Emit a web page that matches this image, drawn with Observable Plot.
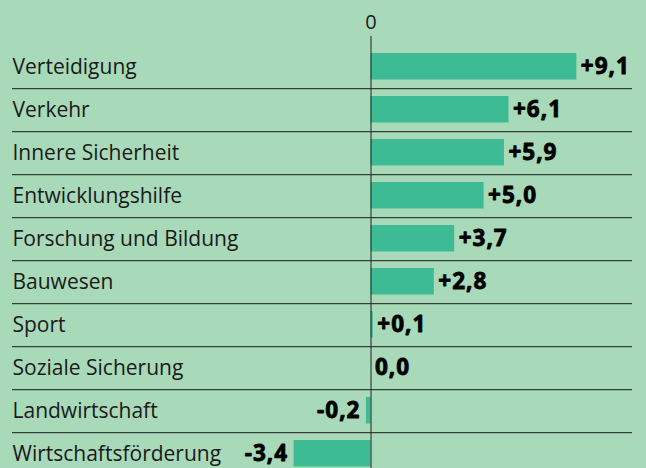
<!DOCTYPE html>
<html>
<head>
<meta charset="utf-8">
<script src="https://cdn.jsdelivr.net/npm/d3@7"></script>
<script src="https://cdn.jsdelivr.net/npm/@observablehq/plot@0.6"></script>
<style>
  html, body { margin: 0; padding: 0; background: #a8d9b9; }
  #chart svg { display: block; }
  #chart g[font-weight="bold"] text { letter-spacing: 1px; }
</style>
</head>
<body>
<div id="chart"></div>
<script>
const categories = ["Verteidigung", "Verkehr", "Innere Sicherheit", "Entwicklungshilfe", "Forschung und Bildung", "Bauwesen", "Sport", "Soziale Sicherung", "Landwirtschaft", "Wirtschaftsförderung"];
const values = [9.1, 6.1, 5.9, 5.0, 3.7, 2.8, 0.1, 0.0, -0.2, -3.4];
const labels = ["+9,1", "+6,1", "+5,9", "+5,0", "+3,7", "+2,8", "+0,1", "0,0", "-0,2", "-3,4"];
const zeroTick = [0];

const data = categories.map((c, i) => ({cat: c, value: values[i], label: labels[i]}));
const pos = data.filter(d => d.value >= 0);
const neg = data.filter(d => d.value < 0);

const W = 646, H = 468;
const pxPerUnit = 22.62, x0 = 370.5;
const rowTop = 43.3, rowStep = 43.4;

const chart = Plot.plot({
  width: W,
  height: H,
  marginTop: 36,
  marginBottom: 0,
  marginLeft: 12,
  marginRight: 14,
  style: {background: "#a8d9b9", fontFamily: "'Open Sans', sans-serif", color: "#111"},
  x: {domain: [-3.4, 9.1], range: [x0 - 3.4 * pxPerUnit, x0 + 9.1 * pxPerUnit], axis: null},
  y: {domain: categories, range: [rowTop, rowTop + rowStep * categories.length], padding: 0, axis: null},
  marks: [
    Plot.barX(data, {x: "value", y: "cat", fill: "#3dbb94", insetTop: 8, insetBottom: 8.5}),
    Plot.ruleY(categories.slice(0, -1), {y: d => d, dy: rowStep / 2, stroke: "#1a1a1a", strokeWidth: 1}),
    Plot.ruleX(zeroTick, {stroke: "#222", strokeWidth: 1}),
    Plot.text(zeroTick, {x: d => d, frameAnchor: "top", lineAnchor: "middle", dy: -13.5, text: d => String(d), fontSize: 20, fill: "#1a1a1a"}),
    Plot.text(data, {y: "cat", text: "cat", frameAnchor: "left", textAnchor: "start", fontSize: 21, fill: "#1a1a1a"}),
    Plot.text(pos, {x: "value", y: "cat", text: "label", textAnchor: "start", dx: 4, fontSize: 22.5, fontWeight: "bold", fill: "#000", stroke: "#000", strokeWidth: 0.8}),
    Plot.text(neg, {x: "value", y: "cat", text: "label", textAnchor: "end", dx: -6, fontSize: 22.5, fontWeight: "bold", fill: "#000", stroke: "#000", strokeWidth: 0.8})
  ]
});
document.getElementById("chart").appendChild(chart);
</script>
</body>
</html>
